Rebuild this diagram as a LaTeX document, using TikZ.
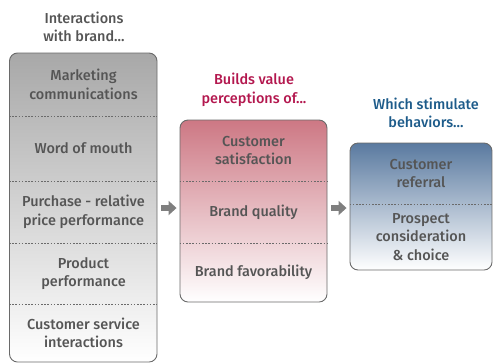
\documentclass[tikz,border=0pt]{standalone}
\usepackage{fontspec}
\setmainfont{Fira Sans}[UprightFont=* Medium]
\usetikzlibrary{arrows.meta}

\definecolor{txtgray}{HTML}{555555}
\definecolor{boxline}{HTML}{6A6A6A}
\definecolor{arrowgray}{HTML}{7F7F7F}
\definecolor{valuered}{HTML}{B3174E}
\definecolor{behavblue}{HTML}{1D5B8A}
\definecolor{intertop}{HTML}{A8A8A8}
\definecolor{intermid}{HTML}{E4E4E4}
\definecolor{valuetop}{HTML}{CD7884}
\definecolor{valuemid}{HTML}{EFCDD3}
\definecolor{behavtop}{HTML}{5A7AA0}
\definecolor{behavmid}{HTML}{CBD4E0}

\begin{document}
\begin{tikzpicture}
	[x=1bp, y=-1bp, >={Triangle[length=8bp 0, width=14bp 0]},
	group/.style={draw=boxline, line width=0.9bp, rounded corners=8bp, inner sep=0pt},
	item/.style={align=center, text=txtgray, font=\fontsize{14.5}{18.5}\selectfont},
	heading/.style={align=center, font=\fontsize{14.5}{18.5}\selectfont},
	sep/.style={draw=boxline, line width=0.7bp, dash pattern=on 1.6bp off 1.6bp},
	flow/.style={->, draw=arrowgray, line width=6bp, shorten <=4bp, shorten >=3bp}]
	\useasboundingbox (0,0) rectangle (493,363);

	% the three columns
	\node (inter) [group, top color=intertop, middle color=intermid, bottom color=white,
		minimum width=147.5bp, minimum height=309bp] at (83.25,207.5) {};
	\node (value) [group, top color=valuetop, middle color=valuemid, bottom color=white,
		minimum width=147bp, minimum height=182bp] at (253.5,211) {};
	\node (behav) [group, top color=behavtop, middle color=behavmid, bottom color=white,
		minimum width=142bp, minimum height=127bp] at (421,206.5) {};

	% headings
	\node (interT) [heading, text=txtgray] at (84,27) {Interactions\\ with brand...};
	\node (valueT) [heading, text=valuered] at (254,90) {Builds value\\ perceptions of...};
	\node (behavT) [heading, text=behavblue] at (426,113) {Which stimulate\\ behaviors...};

	% dotted rules between the rows
	\foreach \y in {116,181,243,304}
		\draw[sep] (inter.west |- 0,\y) -- (inter.east |- 0,\y);
	\foreach \y in {181,243}
		\draw[sep] (value.west |- 0,\y) -- (value.east |- 0,\y);
	\draw[sep] (behav.west |- 0,204) -- (behav.east |- 0,204);

	% row texts
	\node (mkt) [item] at (83.5,84.5) {Marketing\\ communications};
	\node (wom) [item] at (83.5,148.5) {Word of mouth};
	\node (pur) [item] at (83.5,212) {Purchase - relative\\ price performance};
	\node (prod) [item] at (83.5,273.5) {Product\\ performance};
	\node (serv) [item] at (83.5,333) {Customer service\\ interactions};

	\node (sat) [item] at (253.5,150.5) {Customer\\ satisfaction};
	\node (qual) [item] at (253.5,212) {Brand quality};
	\node (fav) [item] at (253.5,272.5) {Brand favorability};

	\node (ref) [item] at (421,173.5) {Customer\\ referral};
	\node (pros) [item] at (421,237) {Prospect\\ consideration\\ \& choice};

	% block arrows between the columns
	\draw[flow] (inter.east |- 0,208) -- (value.west |- 0,208);
	\draw[flow] (value.east |- 0,208) -- (behav.west |- 0,208);
\end{tikzpicture}
\end{document}
